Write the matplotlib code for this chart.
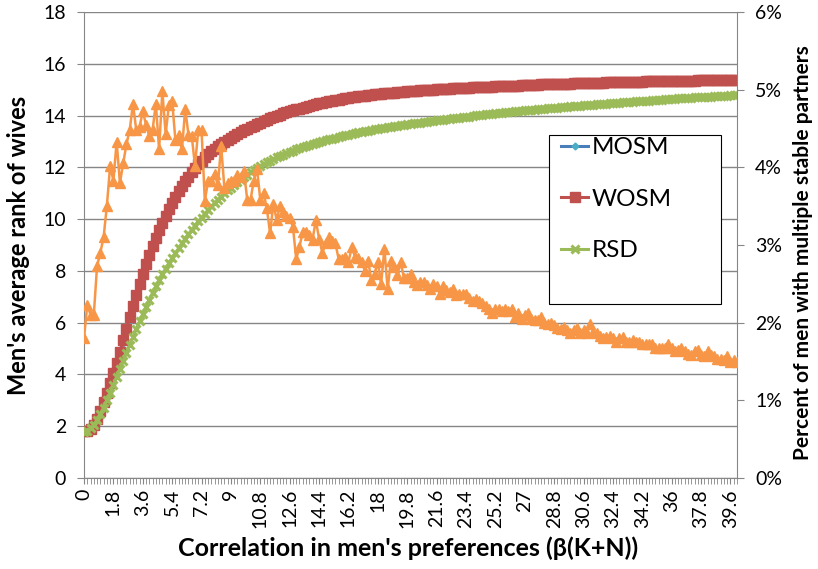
import numpy as np
import matplotlib.pyplot as plt
from matplotlib.patches import Rectangle
from matplotlib.ticker import FuncFormatter

plt.rcParams['font.family'] = ['Lato', 'DejaVu Sans']

# Data: beta(K+N) from 0 to 40 in steps of 0.2 (category axis)
beta = np.round(np.arange(0, 40.001, 0.2), 1)
x_tick_vals = beta[::9]
x_tick_labels = ['%g' % v for v in x_tick_vals]

mosm = [
    1.79, 1.82, 1.88, 2.02, 2.24, 2.53, 2.87, 3.23, 3.60, 3.97,
    4.36, 4.78, 5.21, 5.65, 6.09, 6.53, 6.95, 7.37, 7.77, 8.15,
    8.51, 8.85, 9.17, 9.47, 9.77, 10.04, 10.30, 10.55, 10.78, 11.00,
    11.20, 11.39, 11.58, 11.75, 11.91, 12.07, 12.21, 12.34, 12.46, 12.57,
    12.68, 12.78, 12.87, 12.95, 13.03, 13.11, 13.18, 13.25, 13.32, 13.39,
    13.45, 13.51, 13.57, 13.63, 13.69, 13.75, 13.80, 13.85, 13.90, 13.95,
    14.00, 14.05, 14.09, 14.13, 14.17, 14.21, 14.24, 14.28, 14.31, 14.35,
    14.38, 14.41, 14.44, 14.47, 14.49, 14.52, 14.54, 14.57, 14.59, 14.61,
    14.63, 14.65, 14.67, 14.69, 14.71, 14.73, 14.74, 14.76, 14.77, 14.79,
    14.80, 14.82, 14.83, 14.84, 14.85, 14.86, 14.87, 14.88, 14.89, 14.90,
    14.91, 14.93, 14.94, 14.95, 14.96, 14.97, 14.98, 14.98, 14.99, 15.00,
    15.01, 15.02, 15.02, 15.03, 15.04, 15.04, 15.05, 15.06, 15.06, 15.07,
    15.08, 15.08, 15.09, 15.09, 15.10, 15.10, 15.11, 15.11, 15.12, 15.12,
    15.13, 15.13, 15.14, 15.14, 15.15, 15.15, 15.16, 15.16, 15.17, 15.17,
    15.18, 15.18, 15.19, 15.19, 15.19, 15.20, 15.20, 15.21, 15.21, 15.21,
    15.22, 15.22, 15.23, 15.23, 15.23, 15.24, 15.24, 15.25, 15.25, 15.25,
    15.26, 15.26, 15.26, 15.27, 15.27, 15.27, 15.28, 15.28, 15.28, 15.29,
    15.29, 15.29, 15.30, 15.30, 15.30, 15.31, 15.31, 15.31, 15.31, 15.32,
    15.32, 15.32, 15.32, 15.33, 15.33, 15.33, 15.33, 15.33, 15.34, 15.34,
    15.34, 15.34, 15.34, 15.35, 15.35, 15.35, 15.35, 15.35, 15.36, 15.36,
    15.36,
]

wosm = [
    1.80, 1.83, 1.90, 2.05, 2.28, 2.58, 2.93, 3.30, 3.68, 4.06,
    4.46, 4.88, 5.32, 5.76, 6.20, 6.64, 7.06, 7.48, 7.88, 8.26,
    8.62, 8.95, 9.27, 9.57, 9.86, 10.13, 10.39, 10.63, 10.86, 11.07,
    11.27, 11.46, 11.64, 11.81, 11.97, 12.12, 12.26, 12.39, 12.51, 12.62,
    12.72, 12.82, 12.91, 12.99, 13.07, 13.15, 13.22, 13.29, 13.36, 13.43,
    13.49, 13.55, 13.61, 13.67, 13.73, 13.78, 13.84, 13.89, 13.94, 13.99,
    14.04, 14.08, 14.12, 14.16, 14.20, 14.24, 14.27, 14.31, 14.34, 14.38,
    14.41, 14.44, 14.47, 14.50, 14.52, 14.55, 14.57, 14.60, 14.62, 14.64,
    14.66, 14.68, 14.70, 14.72, 14.74, 14.76, 14.77, 14.79, 14.80, 14.82,
    14.83, 14.85, 14.86, 14.87, 14.88, 14.89, 14.90, 14.91, 14.92, 14.93,
    14.94, 14.95, 14.96, 14.97, 14.98, 14.99, 15.00, 15.00, 15.01, 15.02,
    15.03, 15.04, 15.04, 15.05, 15.06, 15.06, 15.07, 15.08, 15.08, 15.09,
    15.10, 15.10, 15.11, 15.11, 15.12, 15.12, 15.13, 15.13, 15.14, 15.14,
    15.15, 15.15, 15.16, 15.16, 15.17, 15.17, 15.18, 15.18, 15.19, 15.19,
    15.20, 15.20, 15.21, 15.21, 15.21, 15.22, 15.22, 15.23, 15.23, 15.23,
    15.24, 15.24, 15.25, 15.25, 15.25, 15.26, 15.26, 15.27, 15.27, 15.27,
    15.28, 15.28, 15.28, 15.29, 15.29, 15.29, 15.30, 15.30, 15.30, 15.31,
    15.31, 15.31, 15.32, 15.32, 15.32, 15.33, 15.33, 15.33, 15.33, 15.34,
    15.34, 15.34, 15.34, 15.35, 15.35, 15.35, 15.35, 15.35, 15.36, 15.36,
    15.36, 15.36, 15.36, 15.37, 15.37, 15.37, 15.37, 15.37, 15.38, 15.38,
    15.38,
]

rsd = [
    1.78, 1.82, 1.92, 2.06, 2.24, 2.46, 2.72, 3.00, 3.30, 3.60,
    3.91, 4.22, 4.53, 4.84, 5.15, 5.46, 5.76, 6.05, 6.34, 6.62,
    6.89, 7.15, 7.40, 7.64, 7.87, 8.09, 8.30, 8.50, 8.69, 8.87,
    9.07, 9.25, 9.42, 9.59, 9.75, 9.91, 10.06, 10.21, 10.35, 10.49,
    10.62, 10.75, 10.87, 10.99, 11.11, 11.22, 11.33, 11.43, 11.53, 11.63,
    11.72, 11.81, 11.89, 11.97, 12.05, 12.12, 12.19, 12.26, 12.32, 12.38,
    12.44, 12.49, 12.54, 12.59, 12.64, 12.69, 12.73, 12.77, 12.81, 12.85,
    12.89, 12.93, 12.97, 13.01, 13.04, 13.08, 13.11, 13.14, 13.17, 13.20,
    13.23, 13.26, 13.29, 13.32, 13.35, 13.37, 13.40, 13.42, 13.45, 13.47,
    13.49, 13.51, 13.53, 13.55, 13.57, 13.59, 13.61, 13.63, 13.65, 13.67,
    13.69, 13.70, 13.72, 13.73, 13.75, 13.77, 13.78, 13.80, 13.81, 13.83,
    13.84, 13.86, 13.87, 13.89, 13.90, 13.91, 13.93, 13.94, 13.95, 13.97,
    14.01, 14.02, 14.04, 14.05, 14.06, 14.07, 14.09, 14.10, 14.11, 14.12,
    14.13, 14.15, 14.17, 14.18, 14.19, 14.20, 14.21, 14.22, 14.23, 14.24,
    14.26, 14.27, 14.28, 14.29, 14.30, 14.31, 14.32, 14.33, 14.34, 14.35,
    14.36, 14.37, 14.38, 14.39, 14.40, 14.41, 14.42, 14.43, 14.44, 14.45,
    14.46, 14.47, 14.48, 14.49, 14.50, 14.51, 14.52, 14.53, 14.54, 14.55,
    14.56, 14.57, 14.58, 14.58, 14.59, 14.60, 14.61, 14.62, 14.63, 14.63,
    14.64, 14.65, 14.66, 14.67, 14.67, 14.68, 14.69, 14.70, 14.70, 14.71,
    14.72, 14.73, 14.73, 14.74, 14.75, 14.76, 14.76, 14.77, 14.78, 14.79,
    14.80,
]

# percent of men with multiple stable partners (secondary axis)
multi_pct = [
    1.80, 2.23, 2.10, 2.10, 2.73, 2.90, 3.10, 3.50, 4.02, 3.83,
    4.33, 3.80, 4.05, 4.30, 4.48, 4.82, 4.48, 4.52, 4.72, 4.55,
    4.40, 4.48, 4.82, 4.23, 4.98, 4.43, 4.80, 4.85, 4.35, 4.42,
    4.23, 4.75, 4.42, 4.40, 4.02, 4.48, 4.48, 3.57, 3.82, 3.82,
    3.92, 3.77, 4.28, 3.73, 3.80, 3.82, 3.83, 3.90, 3.88, 3.95,
    3.58, 3.58, 3.83, 3.98, 3.58, 3.67, 3.47, 3.15, 3.53, 3.32,
    3.50, 3.43, 3.37, 3.35, 3.23, 2.82, 2.98, 3.17, 3.17, 3.13,
    3.07, 3.32, 3.08, 2.90, 3.02, 3.10, 3.05, 3.02, 2.82, 2.82,
    2.85, 2.78, 2.97, 2.85, 2.83, 2.78, 2.67, 2.80, 2.55, 2.63,
    2.78, 2.50, 2.95, 2.43, 2.80, 2.72, 2.62, 2.78, 2.57, 2.58,
    2.63, 2.52, 2.48, 2.52, 2.52, 2.48, 2.43, 2.50, 2.47, 2.37,
    2.47, 2.42, 2.40, 2.43, 2.35, 2.37, 2.37, 2.37, 2.32, 2.28,
    2.30, 2.28, 2.25, 2.22, 2.17, 2.12, 2.17, 2.17, 2.15, 2.17,
    2.15, 2.17, 2.07, 2.12, 2.05, 2.10, 2.13, 2.05, 2.03, 2.03,
    2.07, 2.00, 1.98, 2.00, 1.97, 1.93, 1.92, 1.95, 1.90, 1.87,
    1.90, 1.93, 1.87, 1.90, 1.87, 1.98, 1.88, 1.87, 1.83, 1.80,
    1.82, 1.83, 1.80, 1.75, 1.80, 1.82, 1.75, 1.75, 1.78, 1.75,
    1.75, 1.72, 1.73, 1.73, 1.72, 1.68, 1.67, 1.67, 1.68, 1.72,
    1.67, 1.63, 1.65, 1.67, 1.63, 1.60, 1.58, 1.63, 1.65, 1.58,
    1.57, 1.63, 1.58, 1.57, 1.53, 1.53, 1.52, 1.57, 1.50, 1.52,
    1.50,
]

grey = '#868686'

fig = plt.figure(figsize=(8.18, 5.69), dpi=100)
ax = fig.add_axes([84 / 818, 1 - 478 / 569, 653 / 818, 466 / 569])
ax2 = ax.twinx()

ax.plot(beta, mosm, color='#4A7EBB', lw=2.2, marker='D', ms=3.5,
        mfc='#4BACC6', mec='#4BACC6', label='MOSM', zorder=3)
ax.plot(beta, wosm, color='#C0504D', lw=2.2, marker='s', ms=7,
        mfc='#C0504D', mec='#C0504D', label='WOSM', zorder=4)
ax.plot(beta, rsd, color='#9BBB59', lw=2.2, marker='x', ms=6, mew=2.2,
        mec='#9BBB59', label='RSD', zorder=5)
ax2.plot(beta, multi_pct, color='#F79646', lw=1.8, marker='^', ms=6.5,
         mfc='#F79646', mec='#F79646', zorder=6)

# primary axis
ax.set_xlim(0, 40)
ax.set_ylim(0, 18)
ax.set_yticks(range(0, 19, 2))
ax.yaxis.grid(True, color=grey, lw=1)
ax.set_axisbelow(True)
ax.set_xticks(x_tick_vals)
ax.set_xticklabels(x_tick_labels, rotation=90)
ax.set_xticks(beta, minor=True)
ax.tick_params(axis='x', which='both', direction='out', length=4,
               color=grey, labelsize=14, pad=4)
ax.tick_params(axis='y', direction='out', length=5, color=grey,
               labelsize=14, pad=8)
for side in ['top', 'right']:
    ax.spines[side].set_visible(False)
for side in ['left', 'bottom']:
    ax.spines[side].set_color(grey)

# secondary axis
ax2.set_ylim(0, 6)
ax2.set_yticks(range(0, 7))
ax2.yaxis.set_major_formatter(FuncFormatter(lambda v, p: '%d%%' % v))
ax2.tick_params(axis='y', direction='out', length=5, color=grey,
                labelsize=14, pad=8)
for side in ['top', 'left', 'bottom']:
    ax2.spines[side].set_visible(False)
ax2.spines['right'].set_color(grey)

ax.set_xlabel("Correlation in men's preferences (\u03b2(K+N))",
              fontsize=18, fontweight='bold')
ax.xaxis.set_label_coords(0.496, -0.125)
ax.set_ylabel("Men's average rank of wives", fontsize=17, fontweight='bold')
ax.yaxis.set_label_coords(-0.083, 0.5)
ax2.set_ylabel('Percent of men with multiple stable partners',
               fontsize=15, fontweight='bold')
ax2.yaxis.set_label_coords(1.086, 0.483)

# legend box
ax2.add_patch(Rectangle((0.712, 0.373), 0.2635, 0.363,
                        transform=ax2.transAxes, facecolor='white',
                        edgecolor='black', lw=0.8, zorder=7))
handles, labels = ax.get_legend_handles_labels()
leg = ax2.legend(handles, labels, loc='upper left',
                 bbox_to_anchor=(0.716, 0.752), frameon=False,
                 fontsize=17.5, handlelength=1.1, handletextpad=0.15,
                 labelspacing=1.25, numpoints=1, borderaxespad=0)
leg.set_zorder(8)

plt.savefig('out.png', dpi=100)
